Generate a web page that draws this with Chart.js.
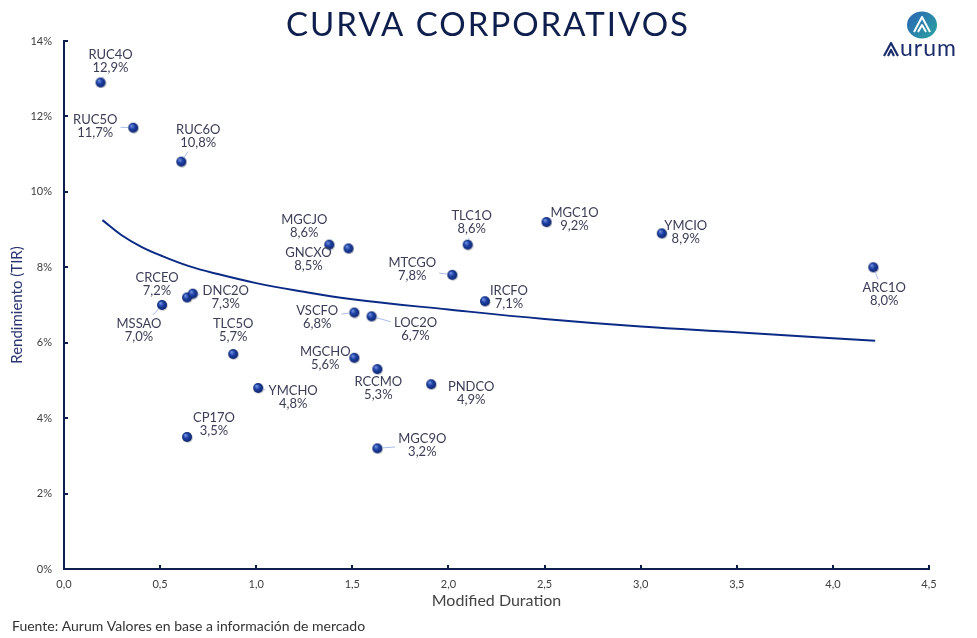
<!DOCTYPE html>
<html>
<head>
<meta charset="utf-8">
<script src="https://cdn.jsdelivr.net/npm/chart.js@4.4.0/dist/chart.umd.min.js"></script>
<style>
  html, body { margin: 0; padding: 0; background: #fff; }
  #wrap { width: 977px; height: 638px; position: relative; }
</style>
</head>
<body>
<div id="wrap"><canvas id="curveChart"></canvas></div>
<script>
// bonos corporativos: duration modificada vs TIR (%)
const bonds = ["RUC4O", "RUC5O", "RUC6O", "CRCEO", "DNC2O", "MSSAO", "TLC5O", "YMCHO", "CP17O",
  "MGCJO", "GNCXO", "TLC1O", "MTCGO", "IRCFO", "VSCFO", "LOC2O", "MGCHO", "RCCMO", "PNDCO",
  "MGC9O", "MGC1O", "YMCIO", "ARC1O"];
const duration = [0.19, 0.36, 0.61, 0.64, 0.67, 0.51, 0.88, 1.01, 0.64,
  1.38, 1.48, 2.10, 2.02, 2.19, 1.51, 1.60, 1.51, 1.63, 1.91,
  1.63, 2.51, 3.11, 4.21];
const yields = [12.9, 11.7, 10.8, 7.2, 7.3, 7.0, 5.7, 4.8, 3.5,
  8.6, 8.5, 8.6, 7.8, 7.1, 6.8, 6.7, 5.6, 5.3, 4.9,
  3.2, 9.2, 8.9, 8.0];

// curva de tendencia
const trendX = [0.2, 0.3, 0.4, 0.5, 0.65, 0.8, 1.0, 1.2, 1.5, 2.0, 2.5, 3.0, 3.5, 4.0, 4.22];
const trendY = [9.25, 8.85, 8.55, 8.32, 8.03, 7.82, 7.58, 7.39, 7.15, 6.88, 6.63, 6.43, 6.28, 6.12, 6.05];

const xTicks = [0, 0.5, 1, 1.5, 2, 2.5, 3, 3.5, 4, 4.5];
const yTicks = [0, 2, 4, 6, 8, 10, 12, 14];

// posicion de etiquetas (offset px del centro de la primera linea) y si llevan linea guia
const labelOffsets = [[10, -28], [-38, -8], [17, -32], [-30, -20], [33, -3], [-23, 19], [0, -30], [35, 3], [27, -19],
  [-25, -25], [-40, 4], [4, -29], [-40, -12], [24, -10], [-37, -2], [44, 6], [-29, -6], [1, 13], [40, 3],
  [45, -10], [28, -9], [24, -8], [11, 21]];
const leaders = [1, 1, 1, 0, 1, 1, 0, 1, 0,
  0, 0, 1, 1, 0, 1, 1, 0, 0, 0,
  1, 0, 0, 1];

const NAVY = "#0e1f4d";
const FONT = "Lato, 'Open Sans', sans-serif";

// esfera para los puntos
function makeSphere(r) {
  const c = document.createElement("canvas");
  c.width = c.height = r * 2 + 2;
  const g = c.getContext("2d");
  const cx = r + 1, cy = r + 1;
  g.fillStyle = "rgba(0,0,0,0.18)";
  g.beginPath(); g.arc(cx + 0.8, cy + 1, r, 0, Math.PI * 2); g.fill();
  const grad = g.createRadialGradient(cx - r * 0.35, cy - r * 0.4, r * 0.1, cx, cy, r);
  grad.addColorStop(0, "#6f8fe0");
  grad.addColorStop(0.45, "#1f43a6");
  grad.addColorStop(1, "#0b226b");
  g.fillStyle = grad;
  g.beginPath(); g.arc(cx, cy, r, 0, Math.PI * 2); g.fill();
  return c;
}
const sphere = makeSphere(5);

const fmt = v => v.toFixed(1).replace(".", ",");

const decorPlugin = {
  id: "decor",
  afterDraw(chart) {
    const ctx = chart.ctx;
    const xs = chart.scales.x, ys = chart.scales.y;
    const area = chart.chartArea;
    ctx.save();

    // ticks hacia adentro
    ctx.strokeStyle = NAVY;
    ctx.lineWidth = 2;
    yTicks.forEach(v => {
      const py = Math.round(ys.getPixelForValue(v));
      ctx.beginPath(); ctx.moveTo(area.left - 1, py); ctx.lineTo(area.left + 4, py); ctx.stroke();
    });
    xTicks.forEach(v => {
      const px = Math.round(xs.getPixelForValue(v));
      ctx.beginPath(); ctx.moveTo(px, area.bottom + 1); ctx.lineTo(px, area.bottom - 4); ctx.stroke();
    });

    // etiquetas de bonos
    const meta = chart.getDatasetMeta(0);
    ctx.font = "13px " + FONT;
    ctx.textAlign = "center";
    ctx.textBaseline = "middle";
    meta.data.forEach((pt, i) => {
      const lx = pt.x + labelOffsets[i][0];
      const ly = pt.y + labelOffsets[i][1];
      const name = bonds[i], val = fmt(yields[i]) + "%";
      if (leaders[i]) {
        const w = Math.max(ctx.measureText(name).width, ctx.measureText(val).width) / 2 + 3;
        const top = ly - 9, bot = ly + 22;
        const cx = lx, cy = ly + 6.5;
        let dx = pt.x - cx, dy = pt.y - cy;
        const tx = dx !== 0 ? w / Math.abs(dx) : Infinity;
        const ty = dy !== 0 ? ((bot - top) / 2) / Math.abs(dy) : Infinity;
        const t = Math.min(tx, ty);
        if (t < 1) {
          const ex = cx + dx * t, ey = cy + dy * t;
          const len = Math.hypot(pt.x - ex, pt.y - ey);
          if (len > 6) {
            const sx = pt.x - (pt.x - ex) * 5 / len, sy = pt.y - (pt.y - ey) * 5 / len;
            ctx.strokeStyle = "#a9bce8";
            ctx.lineWidth = 1;
            ctx.beginPath(); ctx.moveTo(sx, sy); ctx.lineTo(ex, ey); ctx.stroke();
          }
        }
      }
      ctx.fillStyle = "#3a3d55";
      ctx.fillText(name, lx, ly);
      ctx.fillText(val, lx, ly + 13);
    });

    // titulo
    ctx.fillStyle = NAVY;
    ctx.font = "33px " + FONT;
    ctx.letterSpacing = "2px";
    ctx.textBaseline = "middle";
    ctx.fillText("CURVA CORPORATIVOS", 488, 25);
    ctx.letterSpacing = "0px";

    // fuente
    ctx.textAlign = "left";
    ctx.font = "14px " + FONT;
    ctx.fillStyle = "#333";
    ctx.fillText("Fuente: Aurum Valores en base a informaci\u00f3n de mercado", 12, 626);

    // logo Aurum
    const lg = ctx.createLinearGradient(907, 12, 937, 38);
    lg.addColorStop(0, "#2b63b5");
    lg.addColorStop(1, "#2aa4a0");
    ctx.fillStyle = lg;
    ctx.beginPath(); ctx.ellipse(922, 25, 15, 13.5, 0, 0, Math.PI * 2); ctx.fill();
    ctx.strokeStyle = "#fff";
    ctx.lineWidth = 2;
    ctx.lineJoin = "round";
    ctx.beginPath(); ctx.moveTo(914, 32); ctx.lineTo(922, 17); ctx.lineTo(930, 32); ctx.stroke();
    ctx.beginPath(); ctx.moveTo(918, 32); ctx.lineTo(922, 25); ctx.lineTo(926, 32); ctx.stroke();
    ctx.strokeStyle = "#1c2d6b";
    ctx.lineWidth = 2.2;
    ctx.beginPath(); ctx.moveTo(884, 56); ctx.lineTo(891, 43); ctx.lineTo(898, 56); ctx.stroke();
    ctx.beginPath(); ctx.moveTo(888, 56); ctx.lineTo(891, 50); ctx.lineTo(894, 56); ctx.stroke();
    ctx.fillStyle = "#1c2d6b";
    ctx.font = "23px " + FONT;
    ctx.letterSpacing = "1px";
    ctx.textBaseline = "alphabetic";
    ctx.fillText("urum", 900, 56);
    ctx.letterSpacing = "0px";

    ctx.restore();
  }
};

new Chart(document.getElementById("curveChart"), {
  type: "scatter",
  data: {
    datasets: [
      {
        label: "Bonos",
        data: duration.map((d, i) => ({ x: d, y: yields[i] })),
        pointStyle: sphere,
        pointRadius: 6,
        order: 1,
      },
      {
        type: "line",
        label: "Tendencia",
        data: trendX.map((d, i) => ({ x: d, y: trendY[i] })),
        borderColor: "#0a2a85",
        borderWidth: 2,
        pointRadius: 0,
        tension: 0.4,
        fill: false,
        order: 2,
      },
    ],
  },
  options: {
    responsive: true,
    maintainAspectRatio: false,
    animation: false,
    events: [],
    layout: { padding: { top: 41, right: 48, bottom: 24, left: 0 } },
    plugins: {
      legend: { display: false },
      tooltip: { enabled: false },
    },
    scales: {
      x: {
        type: "linear",
        min: 0,
        max: 4.5,
        afterFit: s => { s.height = 45; },
        afterBuildTicks: s => { s.ticks = xTicks.map(v => ({ value: v })); },
        grid: { display: false, drawTicks: false },
        border: { color: NAVY, width: 2 },
        ticks: {
          padding: 9,
          color: "#404040",
          font: { family: FONT, size: 11 },
          callback: v => fmt(v),
        },
        title: {
          display: true,
          text: "Modified Duration",
          color: "#444",
          font: { family: FONT, size: 16 },
          padding: { top: 0 },
        },
      },
      y: {
        min: 0,
        max: 14,
        afterFit: s => { s.width = 64; },
        afterBuildTicks: s => { s.ticks = yTicks.map(v => ({ value: v })); },
        grid: { display: false, drawTicks: false },
        border: { color: NAVY, width: 2 },
        ticks: {
          padding: 12,
          color: "#404040",
          font: { family: FONT, size: 11 },
          callback: v => v + "%",
        },
        title: {
          display: true,
          text: "Rendimiento (TIR)",
          color: "#2a3570",
          font: { family: FONT, size: 15 },
          padding: { top: 8, bottom: 0 },
        },
      },
    },
  },
  plugins: [decorPlugin],
});
</script>
</body>
</html>
